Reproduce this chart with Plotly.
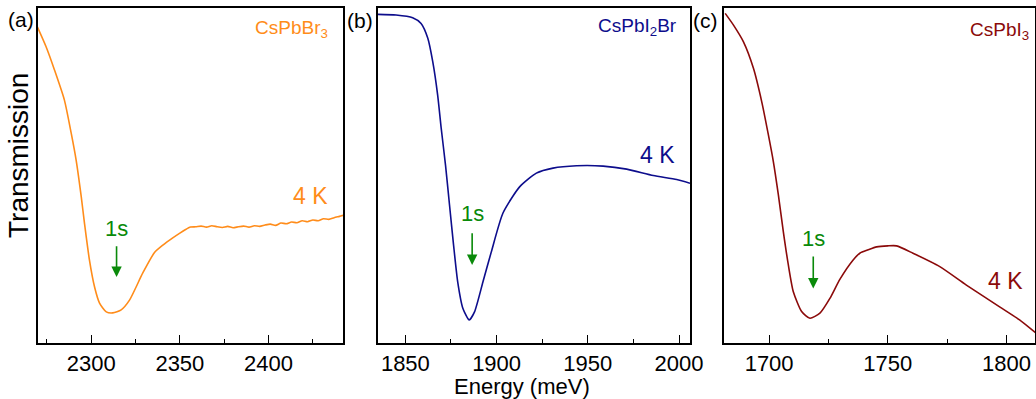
import plotly.graph_objects as go

# (a) CsPbBr3, transmission (arb. units) vs energy (meV)
energy_a = [2269.7, 2274.5, 2279.3, 2284.9, 2288.7, 2291.5, 2294.4, 2296.2, 2299.0,
            2301.9, 2304.7, 2308.5, 2312.2, 2316.9, 2321.6, 2329.1, 2335.7, 2340.4,
            2345.8, 2350.0, 2353.0, 2356.0, 2359.0, 2362.0, 2365.0, 2368.0, 2371.0,
            2374.0, 2377.0, 2380.0, 2383.0, 2386.0, 2389.0, 2392.0, 2395.0, 2398.0,
            2401.0, 2404.0, 2407.0, 2410.0, 2413.0, 2416.0, 2419.0, 2422.0, 2425.0,
            2428.0, 2431.0, 2434.0, 2437.0, 2440.0, 2442.0]
trans_a = [0.943, 0.885, 0.815, 0.725, 0.627, 0.546, 0.436, 0.358, 0.248,
           0.167, 0.119, 0.093, 0.090, 0.099, 0.128, 0.209, 0.270, 0.292,
           0.313, 0.328, 0.338, 0.346, 0.347, 0.349, 0.346, 0.350, 0.347,
           0.345, 0.348, 0.344, 0.347, 0.349, 0.346, 0.350, 0.348, 0.352,
           0.355, 0.351, 0.358, 0.356, 0.361, 0.359, 0.365, 0.362, 0.367,
           0.365, 0.371, 0.369, 0.374, 0.378, 0.381]

# (b) CsPbI2Br
energy_b = [1834.8, 1844.9, 1854.0, 1858.6, 1862.3, 1865.0, 1867.7, 1869.6, 1872.0,
            1874.2, 1876.4, 1878.7, 1881.5, 1885.0, 1887.9, 1892.5, 1897.1, 1903.5,
            1912.6, 1921.8, 1930.9, 1943.8, 1958.4, 1971.3, 1985.9, 1998.7, 2006.0]
trans_b = [0.981, 0.979, 0.971, 0.954, 0.910, 0.840, 0.740, 0.643, 0.531,
           0.412, 0.293, 0.182, 0.104, 0.069, 0.093, 0.182, 0.272, 0.388,
           0.466, 0.507, 0.522, 0.529, 0.528, 0.519, 0.500, 0.488, 0.477]

# (c) CsPbI3
energy_c = [1681.5, 1685.0, 1689.2, 1693.4, 1696.9, 1699.7, 1701.8, 1703.9, 1706.0,
            1708.1, 1710.2, 1713.7, 1717.2, 1721.4, 1725.6, 1729.8, 1735.4, 1738.2,
            1741.7, 1745.3, 1750.0, 1753.7, 1760.6, 1771.9, 1783.1, 1797.1, 1805.5,
            1812.5]
trans_c = [0.984, 0.949, 0.899, 0.820, 0.720, 0.621, 0.541, 0.442, 0.332,
           0.233, 0.153, 0.094, 0.074, 0.089, 0.133, 0.190, 0.248, 0.268,
           0.278, 0.287, 0.290, 0.290, 0.268, 0.228, 0.173, 0.108, 0.069,
           0.029]

materials = ["CsPbBr<sub>3</sub>", "CsPbI<sub>2</sub>Br", "CsPbI<sub>3</sub>"]
panel_tags = ["(a)", "(b)", "(c)"]
x_ranges = [[2270, 2442], [1835, 2006], [1681, 1812]]
peak_1s = [2314.3, 1886.6, 1718.6]      # arrow energy
arrow_tail = [0.293, 0.332, 0.263]
arrow_head = [0.197, 0.233, 0.163]
label_1s_y = [0.343, 0.388, 0.313]

colors = ["#FF8C1A", "#0D0D8C", "#8B0A0A"]
green = "#0A8A0A"
font_fam = "Liberation Sans, Arial, sans-serif"

W, H = 1036, 399
x_dom = [[38 / W, 343 / W], [378 / W, 690 / W], [724 / W, 1035 / W]]
y_dom = [1 - 343 / H, 1 - 8 / H]


def px_note(px_, py_, text, size, color, **kw):
    # text annotation placed by pixel position (centre)
    fig.add_annotation(x=px_ / W, y=1 - py_ / H, xref="paper", yref="paper",
                       xanchor=kw.pop("xanchor", "center"), yanchor="middle",
                       text=text, showarrow=False,
                       font=dict(size=size, color=color, family=font_fam), **kw)


fig = go.Figure()
datasets = [(energy_a, trans_a), (energy_b, trans_b), (energy_c, trans_c)]
for i, (xs, ys) in enumerate(datasets):
    n = "" if i == 0 else str(i + 1)
    fig.add_trace(go.Scatter(x=xs, y=ys, mode="lines", showlegend=False,
                             line=dict(color=colors[i], width=1.6, shape="spline", smoothing=0.6),
                             xaxis="x" + n, yaxis="y" + n))
    fig.update_layout(**{
        "xaxis" + n: dict(domain=x_dom[i], range=x_ranges[i], anchor="y" + n, automargin=False,
                          showline=True, mirror=True, linecolor="black", linewidth=1.5,
                          ticks="inside", ticklen=8, tickwidth=1.3, tickcolor="black",
                          dtick=50, showgrid=False, zeroline=False,
                          minor=dict(ticks="inside", ticklen=4, dtick=25, tickcolor="black",
                                     tickwidth=1.3, showgrid=False),
                          tickfont=dict(size=22, color="black", family=font_fam)),
        "yaxis" + n: dict(domain=y_dom, range=[0, 1], anchor="x" + n, automargin=False,
                          showline=True, mirror=True, linecolor="black", linewidth=1.5,
                          ticks="", showticklabels=False, showgrid=False, zeroline=False),
    })
    # 1s arrow and label
    fig.add_annotation(x=peak_1s[i], y=arrow_head[i], ax=peak_1s[i], ay=arrow_tail[i],
                       xref="x" + n, yref="y" + n, axref="x" + n, ayref="y" + n,
                       text="", showarrow=True, arrowhead=2, arrowsize=1.3,
                       arrowwidth=1.6, arrowcolor=green)
    fig.add_annotation(x=peak_1s[i], y=label_1s_y[i], xref="x" + n, yref="y" + n,
                       xanchor="center", yanchor="middle", text="1s", showarrow=False,
                       font=dict(size=22, color=green, family=font_fam))

# material names (top right of each panel)
for i, (px_, py_) in enumerate([(330, 29), (679, 27), (1031, 31)]):
    px_note(px_, py_, materials[i], 19, colors[i], xanchor="right")

# temperature labels
for i, (px_, py_) in enumerate([(310, 196), (657, 155), (1005, 281)]):
    px_note(px_, py_, "4 K", 23, colors[i])

# panel tags
for i, (px_, py_) in enumerate([(21, 19), (360, 21), (705, 21)]):
    px_note(px_, py_, panel_tags[i], 21, "black")

# axis titles
px_note(18, 156, "Transmission", 28, "black", textangle=-90)
px_note(522, 386, "Energy (meV)", 22, "black")

fig.update_layout(width=W, height=H, margin=dict(l=0, r=0, t=0, b=0, autoexpand=False),
                  paper_bgcolor="white", plot_bgcolor="white")

# page has a default 8px body margin; drop it so the figure sits at the corner
fig.write_html("out.html", config={"displayModeBar": False},
               post_script="document.body.style.margin='0';document.body.style.overflow='hidden';")
